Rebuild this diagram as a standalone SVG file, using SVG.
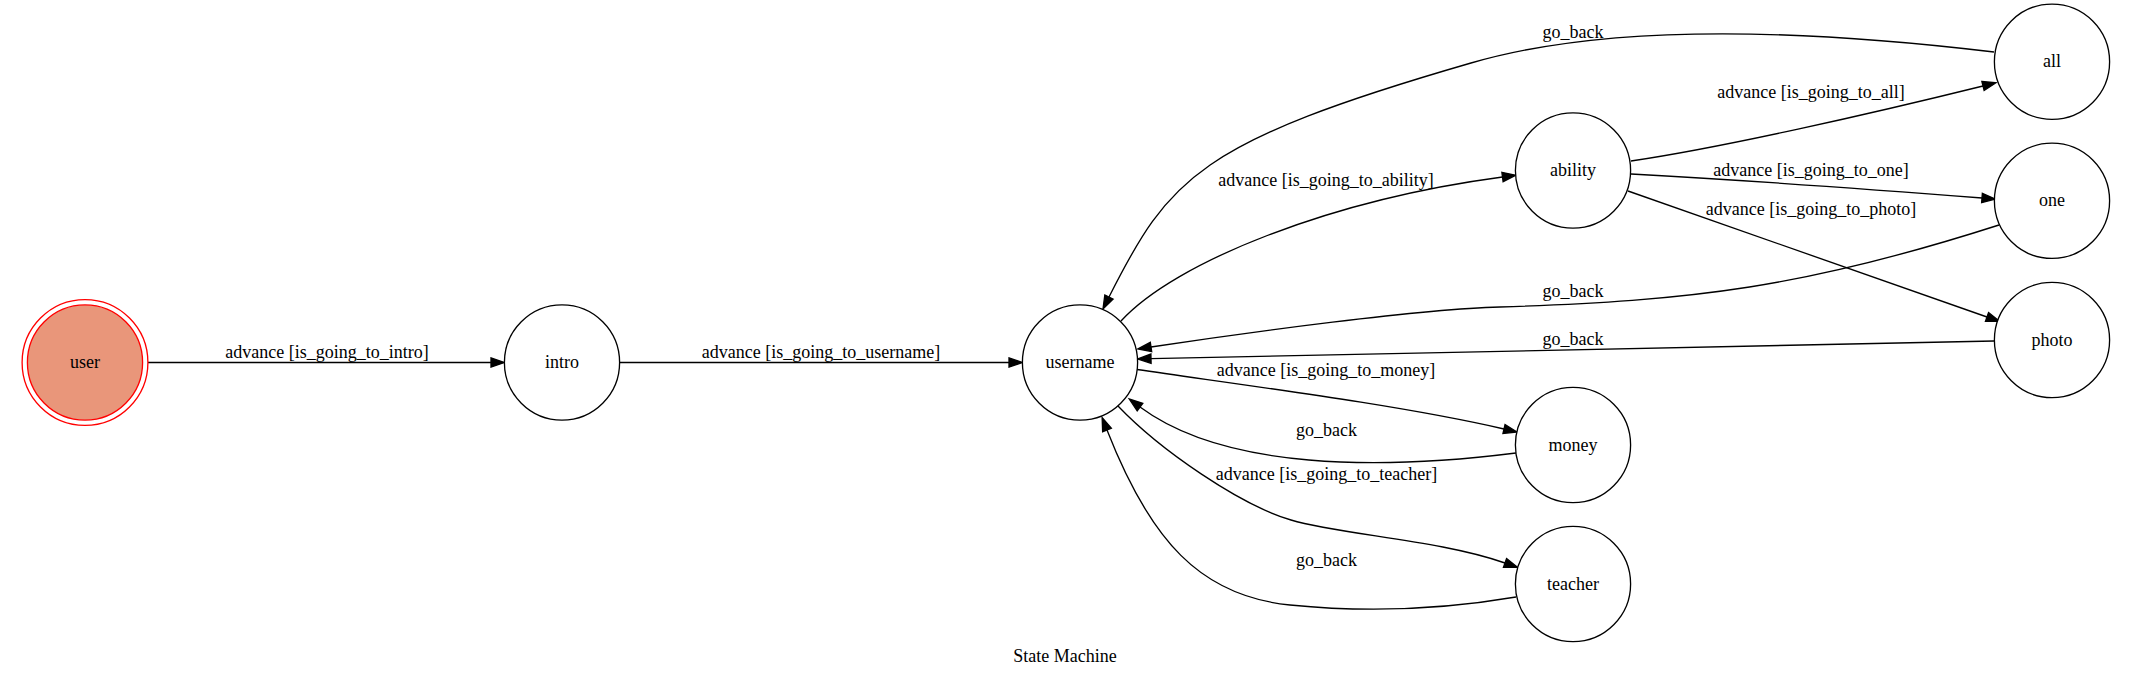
<svg xmlns="http://www.w3.org/2000/svg" width="2131" height="677" viewBox="0 0 2131 677">
<style>
.bg{fill:#ffffff}
.node ellipse,.node circle{fill:#ffffff;stroke:#000000;stroke-width:1.33}
.node text,.lbl{font-family:"Liberation Serif","Times New Roman",serif;font-size:18px;fill:#000000;text-anchor:middle}
.edge{fill:none;stroke:#000000;stroke-width:1.33}
#user circle{fill:#e9967a;stroke:#ff0000}
#user circle.outer{fill:none}
</style>
<defs>
<marker id="arr" markerUnits="userSpaceOnUse" markerWidth="16" markerHeight="12" refX="0" refY="0" viewBox="0 -6 16 12" orient="auto" overflow="visible">
<path d="M0,-4.67 L13.33,0 L0,4.67 Z" fill="#000000" stroke="#000000" stroke-width="1.33"/>
</marker>
</defs>
<rect class="bg" x="0" y="0" width="2131" height="677"/>

<g id="connectors">
<path class="edge" marker-end="url(#arr)" d="M148,362.5 L491,362.5"/>
<path class="edge" marker-end="url(#arr)" d="M620,362.5 L1009,362.5"/>
<path class="edge" marker-end="url(#arr)" d="M1121,321 C1175,262 1330,200 1502.5,177"/>
<path class="edge" marker-end="url(#arr)" d="M1994,52 C1827,32 1618,20 1471,63 C1198,142 1169,178 1109,297"/>
<path class="edge" marker-end="url(#arr)" d="M1631,161 C1720,148 1870,114 1983,86"/>
<path class="edge" marker-end="url(#arr)" d="M1631,174 C1740,180 1880,190 1982,198"/>
<path class="edge" marker-end="url(#arr)" d="M1628,191 L1987,317"/>
<path class="edge" marker-end="url(#arr)" d="M1999,225 C1806,287 1693,301 1500,307 C1420,309 1250,332 1151,347"/>
<path class="edge" marker-end="url(#arr)" d="M1994,341 L1151,358.7"/>
<path class="edge" marker-end="url(#arr)" d="M1137,369.5 C1250,386 1400,405 1504,429"/>
<path class="edge" marker-end="url(#arr)" d="M1516,453 C1380,470 1225,470 1140,407"/>
<path class="edge" marker-end="url(#arr)" d="M1118,406 C1160,450 1240,505 1291,520 C1342,535 1440,540 1505,563"/>
<path class="edge" marker-end="url(#arr)" d="M1516,597 C1440,610 1360,612 1290,605 C1200,596 1150,540 1107,430"/>
<text class="lbl" x="327" y="358.3">advance [is_going_to_intro]</text>
<text class="lbl" x="821" y="358">advance [is_going_to_username]</text>
<text class="lbl" x="1326" y="185.5">advance [is_going_to_ability]</text>
<text class="lbl" x="1573" y="37.5">go_back</text>
<text class="lbl" x="1811" y="98">advance [is_going_to_all]</text>
<text class="lbl" x="1811" y="175.5">advance [is_going_to_one]</text>
<text class="lbl" x="1811" y="214.5">advance [is_going_to_photo]</text>
<text class="lbl" x="1573" y="296.5">go_back</text>
<text class="lbl" x="1573" y="344.5">go_back</text>
<text class="lbl" x="1326" y="375.5">advance [is_going_to_money]</text>
<text class="lbl" x="1326.5" y="436">go_back</text>
<text class="lbl" x="1326.5" y="479.5">advance [is_going_to_teacher]</text>
<text class="lbl" x="1326.5" y="566">go_back</text>
</g>

<g id="user" class="node">
<circle class="outer" cx="85" cy="362.5" r="62.9"/>
<circle cx="85" cy="362.5" r="57.6"/>
<text x="85" y="368">user</text>
</g>
<g id="intro" class="node">
<circle cx="562" cy="362.5" r="57.6"/>
<text x="562" y="368">intro</text>
</g>
<g id="username" class="node">
<circle cx="1080" cy="362.5" r="57.6"/>
<text x="1080" y="368">username</text>
</g>
<g id="ability" class="node">
<circle cx="1573" cy="170.5" r="57.6"/>
<text x="1573" y="176">ability</text>
</g>
<g id="money" class="node">
<circle cx="1573" cy="445" r="57.6"/>
<text x="1573" y="450.5">money</text>
</g>
<g id="teacher" class="node">
<circle cx="1573" cy="584" r="57.6"/>
<text x="1573" y="589.5">teacher</text>
</g>
<g id="all" class="node">
<circle cx="2052" cy="61.7" r="57.6"/>
<text x="2052" y="67.3">all</text>
</g>
<g id="one" class="node">
<circle cx="2052" cy="200.8" r="57.6"/>
<text x="2052" y="206.3">one</text>
</g>
<g id="photo" class="node">
<circle cx="2052" cy="340" r="57.6"/>
<text x="2052" y="345.5">photo</text>
</g>
<text class="lbl" x="1065" y="662">State Machine</text>
</svg>
